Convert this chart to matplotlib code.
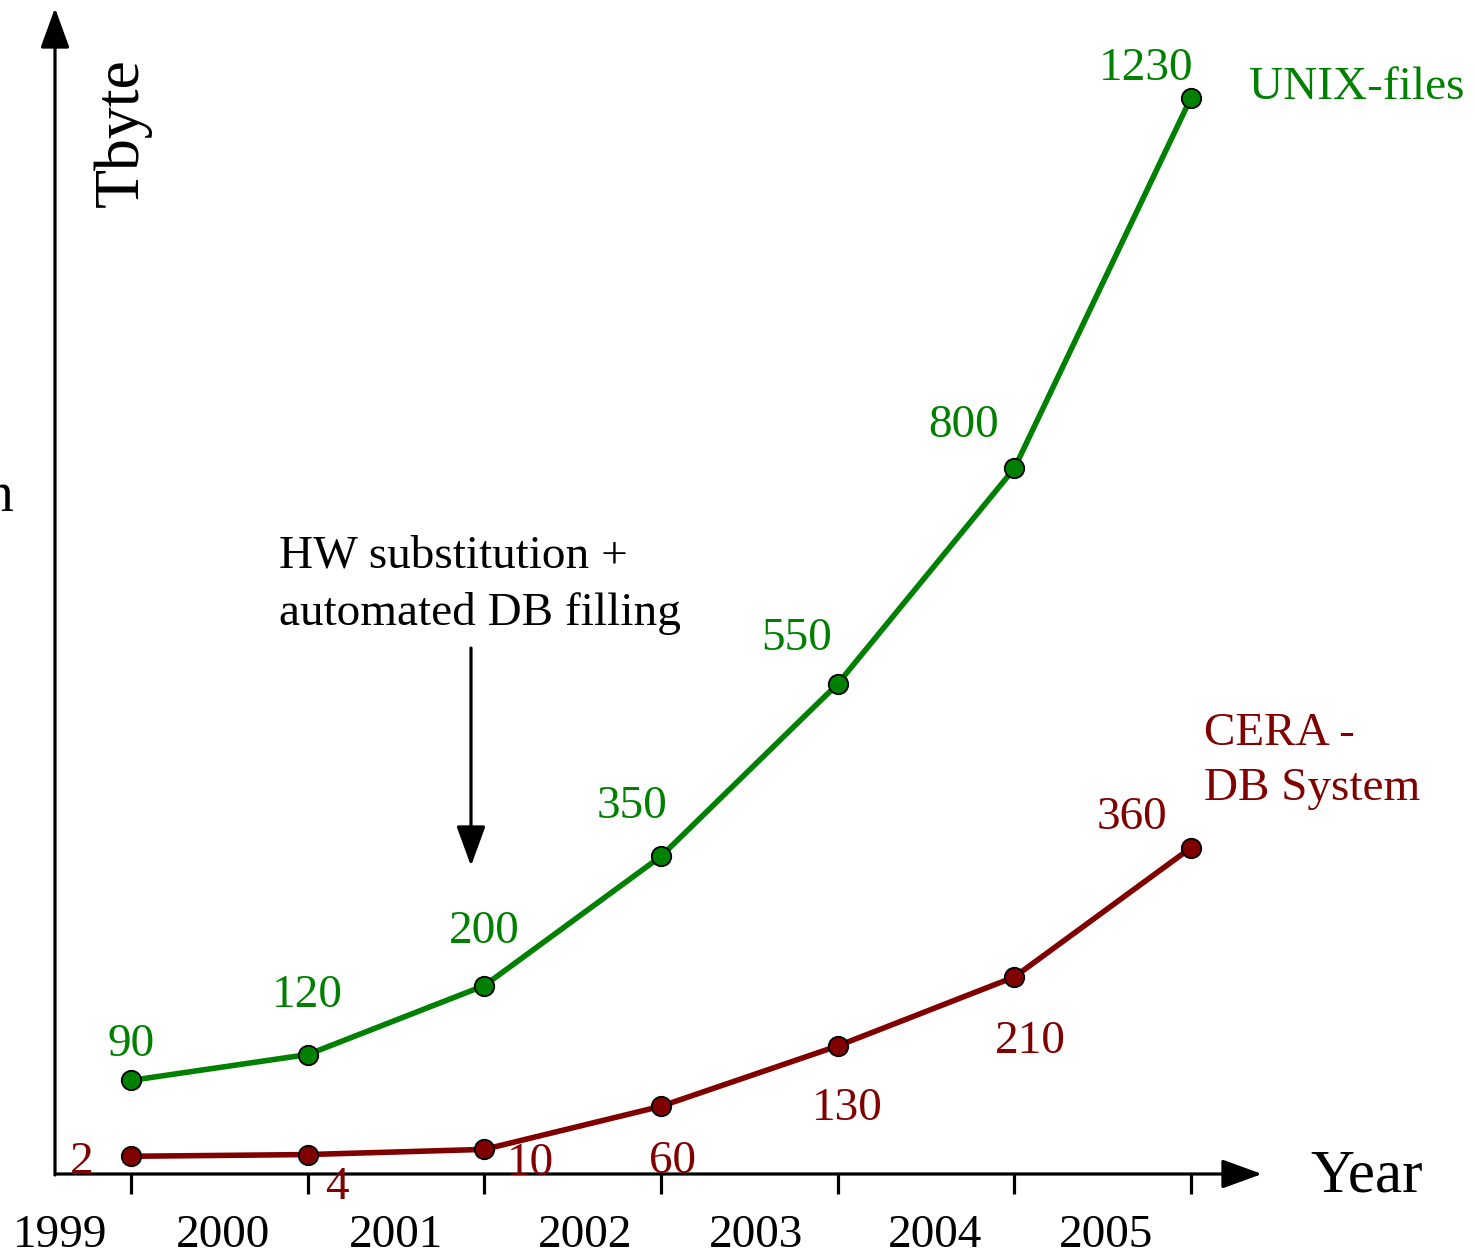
import matplotlib
matplotlib.use("Agg")
import matplotlib.pyplot as plt

# ---- data -------------------------------------------------------------
years = ["1999", "2000", "2001", "2002", "2003", "2004", "2005"]
unix_files = [90, 120, 200, 350, 550, 800, 1230]      # Tbyte
cera_db = [2, 4, 10, 60, 130, 210, 360]               # Tbyte

# label offsets (pixels, right / down from the point, text baseline)
unix_offsets = [(0, -24), (0, -48), (0, -43), (-29, -38), (-41, -34), (-51, -31), (-45, -18)]
cera_offsets = [(-49, 18), (29, 44), (46, 26), (11, 67), (10, 74), (16, 76), (-59, -19)]
# year label shift relative to its tick (labels sit between the ticks)
year_shift = [-0.40, -0.48, -0.50, -0.43, -0.46, -0.45, -0.48]

GREEN = "#008000"
RED = "#800000"
FONT = "Liberation Serif"

W, H = 1475, 1255
fig = plt.figure(figsize=(W / 100, H / 100), dpi=100)
ax = fig.add_axes([0, 0, 1, 1])
ax.axis("off")

# linear scales: x in year index, y in Tbyte
X0, XS = 131.0, 176.67     # pixel of first year, pixels per year
Y0, YS = 1158.0, 0.862     # pixel of 0 Tbyte, pixels per Tbyte
ax.set_xlim(-X0 / XS, (W - X0) / XS)
ax.set_ylim((Y0 - H) / YS, Y0 / YS)


def px(x, y):
    """Convert a pixel position (from the top-left corner) to data units."""
    return (x - X0) / XS, (Y0 - y) / YS


# ---- axes with arrow heads --------------------------------------------
arrow = dict(arrowstyle="-|>,head_length=0.55,head_width=0.2", mutation_scale=45,
             lw=2.3, color="black", shrinkA=0, shrinkB=0)
ax.annotate("", xy=px(1262, 1174), xytext=px(57, 1174), arrowprops=arrow)
ax.annotate("", xy=px(55, 8), xytext=px(55, 1175), arrowprops=arrow)

# ticks and year labels
for i, (yr, sh) in enumerate(zip(years, year_shift)):
    ax.plot([i, i], [px(0, 1174)[1], px(0, 1194)[1]], color="black", lw=2.3,
            solid_capstyle="butt")
    ax.text(i + sh, px(0, 1247)[1], yr, ha="center", va="baseline",
            fontsize=34, family=FONT, color="black")

ax.text(*px(123, 133), "Tbyte", rotation=90, ha="center", va="center",
        fontsize=46, family=FONT, color="black")
ax.text(*px(1310, 1192), "Year", ha="left", va="baseline",
        fontsize=44, family=FONT, color="black")
ax.text(*px(13, 511), "n", ha="right", va="baseline",
        fontsize=40, family=FONT, color="black")

# ---- series -----------------------------------------------------------
xs = list(range(len(years)))
for vals, col, offs in ((unix_files, GREEN, unix_offsets), (cera_db, RED, cera_offsets)):
    ax.plot(xs, vals, color=col, lw=4.0, marker="o", markersize=14,
            markerfacecolor=col, markeredgecolor="black", markeredgewidth=1.3,
            zorder=3)
    for x, v, (ox, oy) in zip(xs, vals, offs):
        ax.annotate(str(v), xy=(x, v), xytext=(ox, -oy), textcoords="offset pixels",
                    ha="center", va="baseline", fontsize=34, family=FONT, color=col)

# series names next to the last point
ax.annotate("UNIX-files", xy=(xs[-1], unix_files[-1]), xytext=(58, -1),
            textcoords="offset pixels", ha="left", va="baseline",
            fontsize=34, family=FONT, color=GREEN)
for text, oy in (("CERA -", -103), ("DB System", -48)):
    ax.annotate(text, xy=(xs[-1], cera_db[-1]), xytext=(13, -oy),
                textcoords="offset pixels", ha="left", va="baseline",
                fontsize=34, family=FONT, color=RED)

# ---- event annotation -------------------------------------------------
for text, base in (("HW substitution +", 567), ("automated DB filling", 625)):
    ax.text(*px(279, base), text, ha="left", va="baseline",
            fontsize=34, family=FONT, color="black")
ax.annotate("", xy=px(471, 866), xytext=px(471, 648),
            arrowprops=dict(arrowstyle="-|>,head_length=0.55,head_width=0.2",
                            mutation_scale=45, lw=2.3, color="black",
                            shrinkA=0, shrinkB=0))

fig.savefig("out.png", dpi=100)
